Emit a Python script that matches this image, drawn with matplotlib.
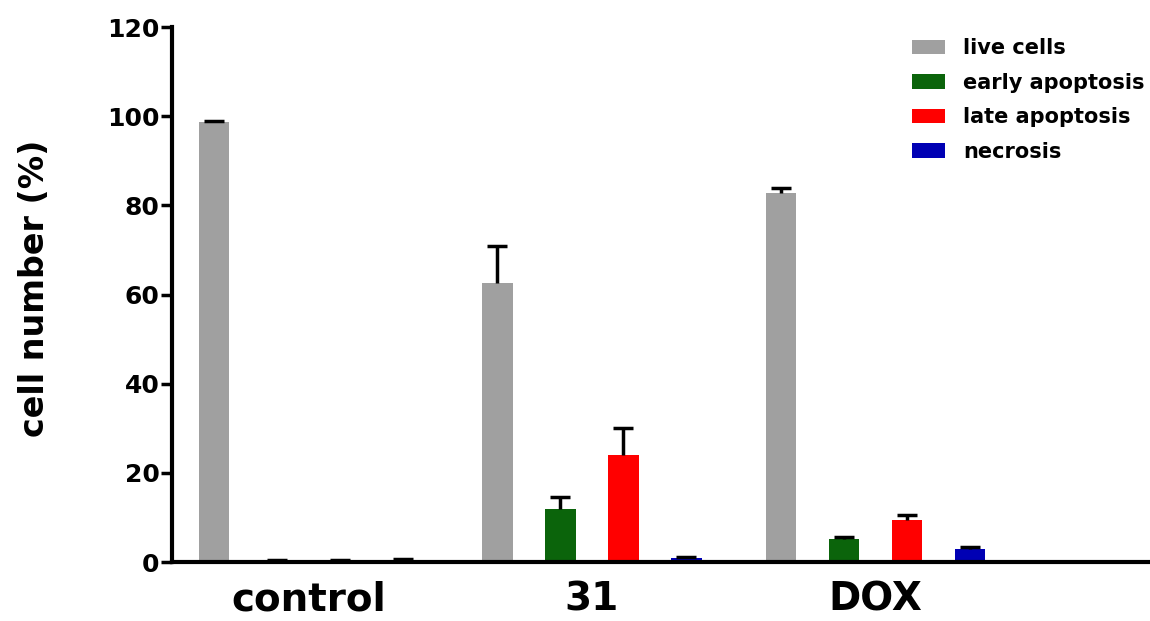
import numpy as np
import matplotlib.pyplot as plt

plt.rcParams['font.family'] = ['DejaVu Sans']
plt.rcParams['font.weight'] = 'bold'

groups = ['control', '31', 'DOX']
series = ['live cells', 'early apoptosis', 'late apoptosis', 'necrosis']
colors = ['#a0a0a0', '#0b640b', '#ff0000', '#0000b4']

# mean values (%) per series, one value per group
live = [98.6, 62.6, 82.8]
early = [0.3, 11.9, 5.2]
late = [0.3, 24.0, 9.4]
necrosis = [0.5, 0.8, 2.9]

# upper error (SD)
live_err = [0.4, 8.2, 1.1]
early_err = [0.1, 2.7, 0.5]
late_err = [0.1, 6.0, 1.1]
necrosis_err = [0.1, 0.3, 0.4]

values = [live, early, late, necrosis]
errors = [live_err, early_err, late_err, necrosis_err]

fig = plt.figure(figsize=(11.5, 6.21), dpi=100)
ax = fig.add_axes([0.1496, 0.095, 0.8504, 0.8615])

group_pos = np.arange(len(groups)) * 4.5
for i, (vals, errs) in enumerate(zip(values, errors)):
    x = group_pos + i
    bars = ax.bar(x, vals, width=0.48, color=colors[i], label=series[i],
                  yerr=[np.zeros(len(errs)), errs], capsize=7.5,
                  error_kw=dict(ecolor='black', elinewidth=2.5, capthick=2.5))
    # only the upper half of the error bar is shown
    bars.errorbar.lines[1][0].set_visible(False)

ax.set_xlim(-0.667, 14.86)
ax.set_ylim(0, 120)
ax.set_yticks(range(0, 121, 20))
ax.set_xticks(group_pos + 1.5)
ax.set_xticklabels(groups, fontsize=28, fontweight='bold')
ax.tick_params(axis='x', length=0, pad=13)
ax.tick_params(axis='y', labelsize=18, width=2.5, length=8, pad=1)
for lab in ax.get_yticklabels():
    lab.set_fontweight('bold')

ax.set_ylabel('cell number (%)', fontsize=24, fontweight='bold')
ax.yaxis.set_label_coords(-0.124, 0.512)

for s in ['top', 'right']:
    ax.spines[s].set_visible(False)
ax.spines['left'].set_linewidth(3)
ax.spines['bottom'].set_linewidth(3)

ax.legend(loc='upper left', bbox_to_anchor=(0.7566, 0.979), frameon=False,
          prop={'size': 15, 'weight': 'bold'}, handlelength=1.6,
          handleheight=0.7, handletextpad=0.87, labelspacing=0.7,
          borderpad=0, borderaxespad=0)

fig.savefig('out.png', dpi=100)
